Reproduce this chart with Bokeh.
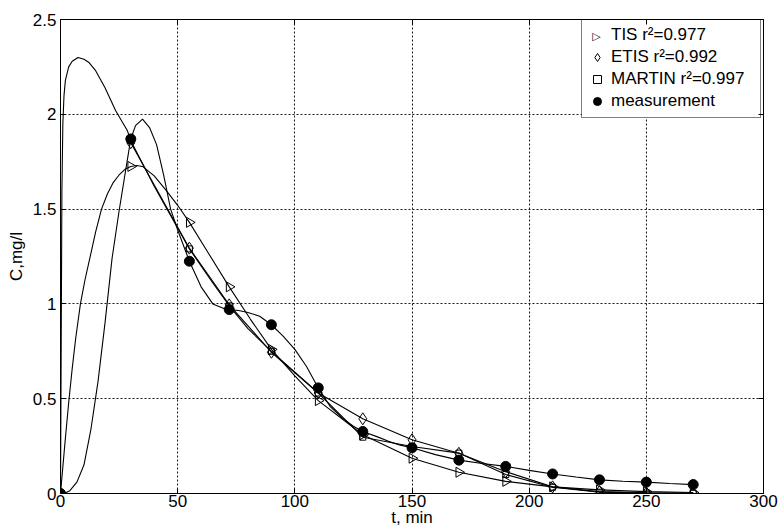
import numpy as np
from bokeh.plotting import figure
from bokeh.models import Legend, LegendItem, Label, LinearAxis, Range1d, FixedTicker, BoxAnnotation
from bokeh.embed import file_html
from bokeh.resources import INLINE

# ---------------- data ----------------
t_meas = [0, 30, 55, 72, 90, 110, 129, 150, 170, 190, 210, 230, 250, 270]
c_meas = [0, 1.87, 1.225, 0.97, 0.89, 0.557, 0.327, 0.241, 0.176, 0.143, 0.103, 0.072, 0.06, 0.047]
tis_mk = [0, 1.725, 1.43, 1.09, 0.76, 0.49, 0.31, 0.186, 0.112, 0.064, 0.035, 0.019, 0.01, 0.005]
etis_mk = [0, 1.85, 1.294, 0.995, 0.745, 0.53, 0.394, 0.283, 0.212, 0.115, 0.035, 0.01, 0.004, 0.002]
martin_mk = [0, 1.86, 1.29, 0.99, 0.75, 0.53, 0.297, 0.248, 0.213, 0.10, 0.033, 0.007, 0.002, 0.001]

# measurement smooth curve
meas_curve_t = [0, 2, 4, 7, 10, 13, 16, 19, 22, 25, 28, 30, 32, 35, 38, 41, 44, 47, 50, 55,
                60, 65, 70, 72, 76, 80, 85, 90, 95, 100, 105, 110, 115, 120, 125, 129, 135,
                140, 145, 150, 160, 170, 180, 190, 200, 210, 220, 230, 240, 250, 260, 270]
meas_curve_c = [0, 0.003, 0.015, 0.06, 0.15, 0.34, 0.59, 0.9, 1.24, 1.49, 1.72, 1.87, 1.94, 1.975,
                1.93, 1.84, 1.68, 1.5, 1.39, 1.225, 1.09, 1.0, 0.975, 0.97, 0.965, 0.955, 0.935,
                0.89, 0.83, 0.76, 0.67, 0.557, 0.46, 0.40, 0.355, 0.327, 0.3, 0.275, 0.255, 0.241,
                0.205, 0.176, 0.158, 0.143, 0.122, 0.103, 0.087, 0.072, 0.065, 0.06, 0.053, 0.047]

# TIS model curve
tis_curve_t = [0, 1, 2, 3.5, 5, 6.5, 8.5, 10.5, 12.5, 15, 17.5, 20, 22.5, 25, 27.5, 30, 32.5, 35,
               40, 45, 50, 55, 63, 72, 81, 90, 100, 110, 129, 150, 170, 190, 210, 230, 250, 270]
tis_curve_c = [0, 0.14, 0.28, 0.48, 0.66, 0.82, 1.0, 1.13, 1.24, 1.38, 1.5, 1.58, 1.64, 1.68, 1.71,
               1.725, 1.73, 1.725, 1.675, 1.6, 1.52, 1.43, 1.27, 1.09, 0.92, 0.76, 0.62, 0.49,
               0.31, 0.186, 0.112, 0.064, 0.035, 0.019, 0.01, 0.005]

# MARTIN model curve
martin_curve_t = [0, 0.3, 0.6, 1, 1.5, 2.1, 3.5, 5, 7.5, 10, 12, 15, 19, 23.5, 28.5, 30, 35, 40,
                  45, 50, 55, 60, 65, 72, 80, 90, 100, 110, 129, 150, 170, 190, 210, 230, 250, 270]
martin_curve_c = [0, 0.8, 1.6, 1.95, 2.1, 2.18, 2.25, 2.28, 2.30, 2.29, 2.275, 2.23, 2.14, 2.02,
                  1.915, 1.86, 1.74, 1.62, 1.51, 1.40, 1.29, 1.2, 1.11, 0.99, 0.87, 0.75, 0.64,
                  0.53, 0.297, 0.248, 0.213, 0.10, 0.033, 0.007, 0.002, 0.001]

# ETIS model curve
etis_curve_t = t_meas[1:]
etis_curve_c = etis_mk[1:]

x_ticks = [0, 50, 100, 150, 200, 250, 300]
y_ticks = [0, 0.5, 1, 1.5, 2, 2.5]
y_tick_labels = ["0", "0.5", "1", "1.5", "2", "2.5"]

legend_labels = ["TIS r\u00b2=0.977", "ETIS r\u00b2=0.992", "MARTIN r\u00b2=0.997", "measurement"]
x_title = "t, min"
y_title = "C,mg/l"

FONT = "Liberation Sans"
FS = "17px"
W, H = 779, 531
BL, BR, BT, BB = 60, 16, 19, 38
X0, X1, Y0, Y1 = 0, 300, 0, 2.5
FW, FH = W - BL - BR, H - BT - BB   # frame size in pixels

p = figure(width=W, height=H, x_range=Range1d(X0, X1), y_range=Range1d(Y0, Y1),
           output_backend="svg", toolbar_location=None,
           min_border_left=BL, min_border_right=BR, min_border_top=BT, min_border_bottom=BB)
p.background_fill_color = "white"
p.border_fill_color = "white"
p.outline_line_color = "black"
p.outline_line_width = 1
p.outline_line_alpha = 1

for ax in (p.xaxis[0], p.yaxis[0]):
    ax.major_tick_in = 5
    ax.major_tick_out = 0
    ax.minor_tick_line_color = None
    ax.major_label_text_font = FONT
    ax.major_label_text_font_size = FS
    ax.major_label_text_color = "black"
    ax.axis_line_color = "black"
    ax.major_tick_line_color = "black"
    ax.axis_label_text_font = FONT
    ax.axis_label_text_font_size = FS
    ax.axis_label_text_font_style = "normal"
    ax.axis_label_text_color = "black"
p.xaxis.ticker = FixedTicker(ticks=x_ticks)
p.yaxis.ticker = FixedTicker(ticks=y_ticks)
p.yaxis.major_label_overrides = {v: s for v, s in zip(y_ticks, y_tick_labels)}
p.xaxis.major_label_standoff = 1
p.yaxis.major_label_standoff = 4
p.xaxis.axis_label = x_title
p.yaxis.axis_label = y_title
p.xaxis.axis_label_standoff = -2
p.yaxis.axis_label_standoff = 4

top = LinearAxis(ticker=FixedTicker(ticks=x_ticks), major_tick_in=5, major_tick_out=0,
                 minor_tick_line_color=None, major_label_standoff=0,
                 major_label_overrides={v: "" for v in x_ticks})
right = LinearAxis(ticker=FixedTicker(ticks=y_ticks), major_tick_in=5, major_tick_out=0,
                   minor_tick_line_color=None, major_label_standoff=0,
                   major_label_overrides={v: "" for v in y_ticks})
p.add_layout(top, "above")
p.add_layout(right, "right")

p.xgrid.ticker = FixedTicker(ticks=x_ticks)
p.ygrid.ticker = FixedTicker(ticks=y_ticks)
for g in (p.xgrid[0], p.ygrid[0]):
    g.grid_line_color = "black"
    g.grid_line_dash = "2 2"
    g.grid_line_width = 1
    g.grid_line_alpha = 0.9

# legend geometry (frame pixels, bottom-up)
LEG_X, LEG_Y = 521, 375
PAD, GW, GH, STAND, LABW = 5, 20, 22, 4, 144
LEG_W = PAD + GW + STAND + LABW + PAD
LEG_H = 2 * PAD + 4 * GH

# white plate hiding the grid behind the (transparent) legend
p.add_layout(BoxAnnotation(left=X0 + LEG_X * (X1 - X0) / FW,
                           right=X0 + (LEG_X + LEG_W) * (X1 - X0) / FW,
                           bottom=Y0 + LEG_Y * (Y1 - Y0) / FH,
                           top=Y0 + (LEG_Y + LEG_H) * (Y1 - Y0) / FH,
                           fill_color="white", fill_alpha=1, line_alpha=0, level="underlay"))

LW = 1.1
p.line(martin_curve_t, martin_curve_c, line_color="black", line_width=LW)
p.line(etis_curve_t, etis_curve_c, line_color="black", line_width=LW)
p.line(tis_curve_t, tis_curve_c, line_color="black", line_width=LW)
p.line(meas_curve_t, meas_curve_c, line_color="black", line_width=LW)

r_tis = p.scatter(t_meas, tis_mk, marker="triangle", angle=-np.pi / 2, size=10,
                  line_color="black", fill_alpha=0, line_width=1)
r_etis = p.scatter(t_meas, etis_mk, marker="diamond", size=12,
                   line_color="black", fill_alpha=0, line_width=1)
r_martin = p.scatter(t_meas, martin_mk, marker="square", size=6,
                     line_color="black", fill_alpha=0, line_width=1)
r_meas = p.scatter(t_meas, c_meas, marker="circle", size=10,
                   line_color="black", fill_color="black")
# legend stand-in for the right-pointing triangle (legend glyphs are never rotated)
r_tis_leg = p.scatter(x=[], y=[], marker="triangle", size=10, line_alpha=0, fill_alpha=0)

legend = Legend(items=[LegendItem(label=legend_labels[0], renderers=[r_tis_leg]),
                       LegendItem(label=legend_labels[1], renderers=[r_etis]),
                       LegendItem(label=legend_labels[2], renderers=[r_martin]),
                       LegendItem(label=legend_labels[3], renderers=[r_meas])],
                location=(LEG_X, LEG_Y))
legend.label_text_font = FONT
legend.label_text_font_size = FS
legend.label_text_color = "black"
legend.glyph_width = GW
legend.glyph_height = GH
legend.label_height = GH
legend.label_width = LABW
legend.label_standoff = STAND
legend.spacing = 0
legend.padding = PAD
legend.margin = 0
legend.border_line_color = "black"
legend.border_line_width = 1
legend.background_fill_alpha = 0
p.add_layout(legend)

# right-pointing triangle for the first legend row
p.add_layout(Label(x=LEG_X + PAD + GW / 2, y=LEG_Y + PAD + 3 * GH + GH / 2,
                   x_units="screen", y_units="screen",
                   text="\u25b7", text_font="DejaVu Sans", text_font_size="11px",
                   text_align="center", text_baseline="middle", text_color="black"))

open("out.html", "w").write(file_html(p, INLINE))
